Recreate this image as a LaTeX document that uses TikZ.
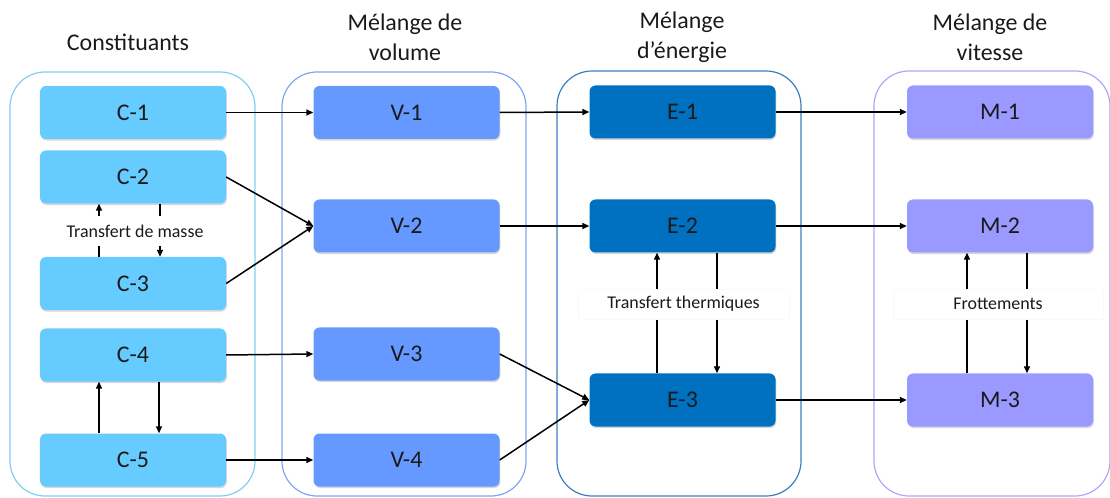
\documentclass[tikz,border=0pt]{standalone}
\usepackage{fontspec}
\setmainfont{Carlito}
\usetikzlibrary{arrows.meta,shadows}
\definecolor{cfill}{HTML}{66CCFF}
\definecolor{vfill}{HTML}{6699FF}
\definecolor{efill}{HTML}{0070C0}
\definecolor{mfill}{HTML}{9999FF}
\definecolor{cline}{HTML}{80CFF2}
\definecolor{vline}{HTML}{7FA4F2}
\definecolor{eline}{HTML}{3A7EC0}
\definecolor{mline}{HTML}{A9A9F8}
\definecolor{txt}{HTML}{1A1A1A}
\tikzset{
  box/.style={rounded corners=6bp, minimum width=186bp, minimum height=53bp,
    inner sep=0pt, text=txt, font=\fontsize{24}{28}\selectfont,
    drop shadow={shadow xshift=0.8bp, shadow yshift=-1.6bp, opacity=0.35, fill=black!45}},
  cbox/.style={box, fill=cfill},
  vbox/.style={box, fill=vfill},
  ebox/.style={box, fill=efill},
  mbox/.style={box, fill=mfill},
  cont/.style={rounded corners=35bp, line width=1.2bp, inner sep=0pt},
  title/.style={text=txt, align=center, font=\fontsize{24}{30}\selectfont},
  lbl/.style={fill=white, text=txt, font=\fontsize{18}{20}\selectfont, inner xsep=5bp, minimum height=30bp},
  arr/.style={line width=1.5bp, -{Triangle[length=7bp,width=6bp]}},
}
\begin{document}
\begin{tikzpicture}[x=1bp,y=-1bp]
\useasboundingbox (0,0) rectangle (1110,498);
% containers
\node[cont, draw=cline, minimum width=245bp, minimum height=424bp] (kc) at (132.5,284) {};
\node[cont, draw=vline, minimum width=244bp, minimum height=424bp] (kv) at (404,284) {};
\node[cont, draw=eline, minimum width=244bp, minimum height=425bp] (ke) at (679,283.5) {};
\node[cont, draw=mline, minimum width=236bp, minimum height=425bp] (km) at (992,283.5) {};
% titles
\node[title] (t1) at (128,42) {Constituants};
\node[title] (t2) at (405,37) {Mélange de\\volume};
\node[title] (t3) at (682,37) {Mélange\\d’énergie};
\node[title] (t4) at (990,37) {Mélange de\\vitesse};
% boxes
\node[cbox] (c1) at (133,112.5) {C-1};
\node[cbox] (c2) at (133,177) {C-2};
\node[cbox] (c3) at (133,283.5) {C-3};
\node[cbox] (c4) at (133,355) {C-4};
\node[cbox] (c5) at (133,460) {C-5};
\node[vbox] (v1) at (406.5,112.5) {V-1};
\node[vbox] (v2) at (406.5,226) {V-2};
\node[vbox] (v3) at (406.5,354) {V-3};
\node[vbox] (v4) at (406.5,460) {V-4};
\node[ebox] (e1) at (682.5,112) {E-1};
\node[ebox] (e2) at (682.5,226) {E-2};
\node[ebox] (e3) at (682.5,400) {E-3};
\node[mbox] (m1) at (1000,112) {M-1};
\node[mbox] (m2) at (1000,226) {M-2};
\node[mbox] (m3) at (1000,400) {M-3};
% flow arrows
\draw[arr] (c1.east) -- (v1.west);
\draw[arr] (c2.east) -- (v2.west);
\draw[arr] (c3.east) -- (v2.west);
\draw[arr] (c4.east) -- (v3.west);
\draw[arr] (c5.east) -- (v4.west);
\draw[arr] (v1.east) -- (e1.west);
\draw[arr] (v2.east) -- (e2.west);
\draw[arr] (v3.east) -- (e3.west);
\draw[arr] (v4.east) -- (e3.west);
\draw[arr] (e1.east) -- (m1.west);
\draw[arr] (e2.east) -- (m2.west);
\draw[arr] (e3.east) -- (m3.west);
% exchanges
\draw[arr] ([xshift=-34bp]c3.north) -- ([xshift=-34bp]c2.south);
\draw[arr] ([xshift=27bp]c2.south) -- ([xshift=27bp]c3.north);
\draw[arr] ([xshift=-34bp]c5.north) -- ([xshift=-34bp]c4.south);
\draw[arr] ([xshift=26bp]c4.south) -- ([xshift=26bp]c5.north);
\draw[arr] ([xshift=-25.5bp]e3.north) -- ([xshift=-25.5bp]e2.south);
\draw[arr] ([xshift=34.5bp]e2.south) -- ([xshift=34.5bp]e3.north);
\draw[arr] ([xshift=-33bp]m3.north) -- ([xshift=-33bp]m2.south);
\draw[arr] ([xshift=27bp]m2.south) -- ([xshift=27bp]m3.north);
% labels
\node[lbl] (l1) at (135,231) {Transfert de masse};
\node[lbl, draw=black!2, minimum width=211bp] (l2) at (683.5,304) {Transfert thermiques};
\node[lbl, draw=black!2, minimum width=210bp] (l3) at (998,304) {Frottements};
\end{tikzpicture}
\end{document}
